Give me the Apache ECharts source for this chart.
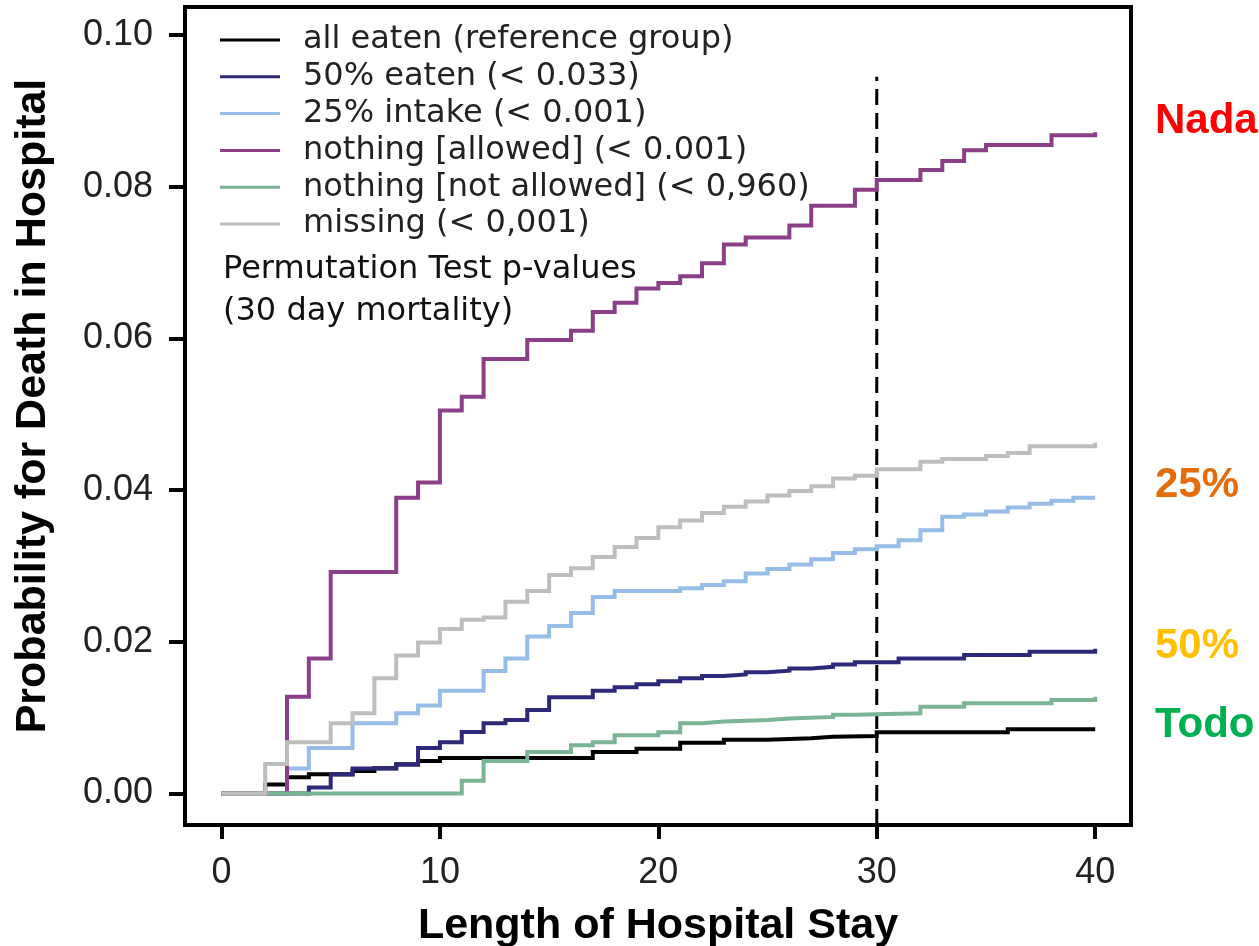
<!DOCTYPE html>
<html>
<head>
<meta charset="utf-8">
<script src="https://cdn.jsdelivr.net/npm/echarts@6/dist/echarts.min.js"></script>
<style>
html,body{margin:0;padding:0;background:#fff;}
#chart{width:1259px;height:946px;}
</style>
</head>
<body>
<div id="chart"></div>
<script>
// ---- data (x = days, y = cumulative probability) ----
const seriesNames = [
  'all eaten (reference group)',
  '50% eaten (< 0.033)',
  '25% intake (< 0.001)',
  'nothing [allowed] (< 0.001)',
  'nothing [not allowed] (< 0,960)',
  'missing (< 0,001)'
];
const allEaten = [[0,0],[2,0.0012],[3,0.00213],[4,0.00253],[6,0.00297],[7,0.00332],[8,0.00385],[9,0.00428],[10,0.0047],[17,0.00547],[19,0.0059],[21,0.0067],[23,0.0071],[25,0.0073],[27,0.0075],[28,0.00758],[30,0.00807],[36,0.00846],[40,0.00846]];
const eaten50 = [[0,0],[4,0.0008],[5,0.0025],[6,0.0033],[8,0.0038],[9,0.006],[10,0.00675],[11,0.0081],[12,0.00925],[13,0.0097],[14,0.011],[15,0.0127],[17,0.01355],[18,0.014],[19,0.0144],[20,0.0148],[21,0.0152],[22,0.0155],[23,0.0157],[24,0.016],[25,0.0162],[26,0.0165],[27,0.0167],[28,0.017],[29,0.0173],[31,0.0178],[34,0.01826],[37,0.0187],[40,0.0191]];
const intake25 = [[0,0],[3,0.0033],[4,0.006],[6,0.00925],[8,0.01057],[9,0.0116],[10,0.01355],[12,0.01615],[13,0.0178],[14,0.0207],[15,0.0221],[16,0.0238],[17,0.0259],[18,0.0267],[21,0.02705],[22,0.0275],[23,0.028],[24,0.029],[25,0.0296],[26,0.0302],[27,0.0309],[28,0.0317],[29,0.0322],[30,0.0326],[31,0.0334],[32,0.0347],[33,0.0365],[34,0.0368],[35,0.0372],[36,0.0377],[37,0.0382],[38,0.0386],[39,0.039],[40,0.039]];
const nothingAllowed = [[0,0],[3,0.01276],[4,0.0178],[5,0.0292],[8,0.039],[9,0.041],[10,0.0505],[11,0.0523],[12,0.0573],[14,0.0598],[16,0.061],[17,0.0635],[18,0.0647],[19,0.0666],[20,0.0673],[21,0.0682],[22,0.0699],[23,0.0724],[24,0.0733],[26,0.0749],[27,0.0775],[29,0.0796],[30,0.0809],[32,0.0822],[33,0.0834],[34,0.0848],[35,0.0855],[38,0.0868],[40,0.0872]];
const nothingNotAllowed = [[0,0],[11,0.0017],[12,0.0043],[14,0.00547],[16,0.00635],[17,0.00675],[18,0.00767],[20,0.00807],[21,0.00925],[22,0.0095],[23,0.0097],[25,0.0099],[26,0.0101],[28,0.0104],[29,0.01057],[32,0.01145],[34,0.0119],[38,0.01233],[40,0.01276]];
const missing = [[0,0],[2,0.0039],[3,0.00675],[5,0.00925],[6,0.01057],[7,0.0152],[8,0.0182],[9,0.0199],[10,0.0217],[11,0.0229],[12,0.0232],[13,0.0253],[14,0.0267],[15,0.0288],[16,0.0297],[17,0.0312],[18,0.0325],[19,0.0337],[20,0.0351],[21,0.036],[22,0.037],[23,0.0378],[24,0.0385],[25,0.0393],[26,0.0399],[27,0.0405],[28,0.04155],[29,0.0419],[30,0.04274],[32,0.04375],[33,0.0441],[35,0.0445],[36,0.0449],[37,0.0458],[40,0.04625]];
const xTicks = [0, 10, 20, 30, 40];
const yTicks = [0, 0.02, 0.04, 0.06, 0.08, 0.10];
const cutoffDay = 30;
const cutoffTop = 0.0945;
const sideLabels = ['Nada', '25%', '50%', 'Todo'];
const noteLines = ['Permutation Test p-values', '(30 day mortality)'];

// ---- styling ----
const colors = ['#000000', '#2E2878', '#96BCE8', '#8B3F88', '#7AB494', '#BEBEBE'];
const allData = [allEaten, eaten50, intake25, nothingAllowed, nothingNotAllowed, missing];
const X_MIN = -1.67, X_MAX = 41.64, Y_MIN = -0.00415, Y_MAX = 0.1037;
const tickFont = 'Liberation Sans, Arial, sans-serif';

const series = allData.map((d, i) => ({
  name: seriesNames[i],
  type: 'line',
  step: 'end',
  data: d,
  showSymbol: false,
  symbol: 'none',
  lineStyle: { color: colors[i], width: 4, cap: 'butt', join: 'miter' },
  itemStyle: { color: colors[i] },
  animation: false,
  z: 2 + i
}));
series.push({
  name: 'cutoff',
  type: 'line',
  data: [[cutoffDay, Y_MIN], [cutoffDay, cutoffTop]],
  symbol: 'none',
  lineStyle: { color: '#000', width: 3, type: [16, 8] },
  animation: false,
  z: 1
});

const chart = echarts.init(document.getElementById('chart'), null, { renderer: 'canvas' });
chart.setOption({
  backgroundColor: '#ffffff',
  animation: false,
  grid: {
    left: 185, right: 128, top: 7, bottom: 121,
    containLabel: false, outerBoundsMode: 'none',
    show: true, borderColor: '#000', borderWidth: 4, backgroundColor: 'transparent'
  },
  legend: {
    data: seriesNames,
    orient: 'vertical',
    left: 220, top: 24,
    icon: 'rect',
    itemWidth: 60, itemHeight: 3,
    itemGap: 4.8,
    selectedMode: false,
    padding: 0,
    textStyle: {
      fontFamily: 'DejaVu Sans, sans-serif', fontSize: 32, lineHeight: 32,
      color: '#222', padding: [0, 0, 0, 18]
    }
  },
  xAxis: {
    type: 'value', min: X_MIN, max: X_MAX,
    name: 'Length of Hospital Stay',
    nameLocation: 'middle', nameGap: 80,
    nameTextStyle: { fontFamily: tickFont, fontSize: 43, fontWeight: 'bold', color: '#000' },
    axisLine: { show: true, onZero: false, lineStyle: { color: '#000', width: 4 } },
    axisTick: { show: true, inside: false, customValues: xTicks, length: 14, lineStyle: { color: '#000', width: 4 } },
    axisLabel: { customValues: xTicks, margin: 30, fontFamily: tickFont, fontSize: 36, color: '#222',
                 formatter: v => String(Math.round(v)) },
    splitLine: { show: false }
  },
  yAxis: {
    type: 'value', min: Y_MIN, max: Y_MAX,
    name: 'Probability for Death in Hospital',
    nameLocation: 'middle', nameGap: 130,
    nameTextStyle: { fontFamily: tickFont, fontSize: 43, fontWeight: 'bold', color: '#000', padding: [0, 0, 0, 20] },
    axisLine: { show: true, onZero: false, lineStyle: { color: '#000', width: 4 } },
    axisTick: { show: true, inside: false, customValues: yTicks, length: 16, lineStyle: { color: '#000', width: 4 } },
    axisLabel: { customValues: yTicks, margin: 32, fontFamily: tickFont, fontSize: 36, color: '#222',
                 formatter: v => v.toFixed(2) },
    splitLine: { show: false }
  },
  graphic: [
    { type: 'text', x: 223, y: 270, style: { text: noteLines[0], fontFamily: 'DejaVu Sans, sans-serif', fontSize: 32, fill: '#111', verticalAlign: 'middle' } },
    { type: 'text', x: 223, y: 312, style: { text: noteLines[1], fontFamily: 'DejaVu Sans, sans-serif', fontSize: 32, fill: '#111', verticalAlign: 'middle' } },
    { type: 'text', x: 1155, y: 121, style: { text: sideLabels[0], fontFamily: tickFont, fontSize: 42, fontWeight: 'bold', fill: '#FF0000', verticalAlign: 'middle' } },
    { type: 'text', x: 1155, y: 485, style: { text: sideLabels[1], fontFamily: tickFont, fontSize: 42, fontWeight: 'bold', fill: '#E46C0A', verticalAlign: 'middle' } },
    { type: 'text', x: 1155, y: 646, style: { text: sideLabels[2], fontFamily: tickFont, fontSize: 42, fontWeight: 'bold', fill: '#FFC000', verticalAlign: 'middle' } },
    { type: 'text', x: 1155, y: 725, style: { text: sideLabels[3], fontFamily: tickFont, fontSize: 42, fontWeight: 'bold', fill: '#00B050', verticalAlign: 'middle' } }
  ],
  series: series
});
</script>
</body>
</html>
